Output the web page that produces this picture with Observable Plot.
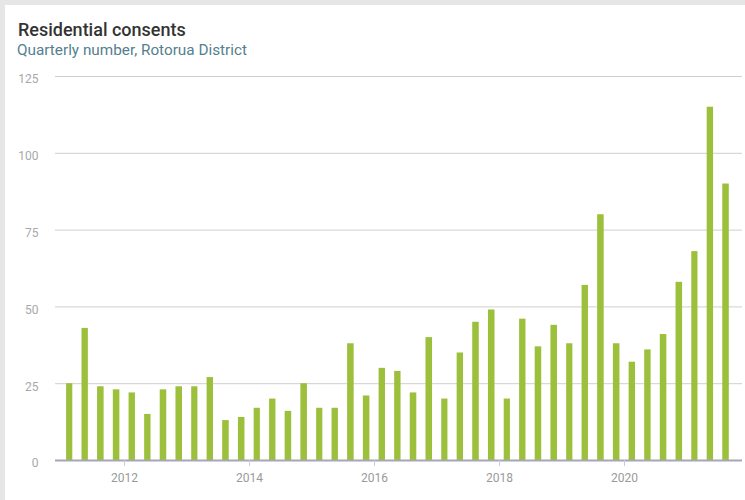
<!DOCTYPE html>
<html>
<head>
<meta charset="utf-8">
<script src="https://cdn.jsdelivr.net/npm/d3@7"></script>
<script src="https://cdn.jsdelivr.net/npm/@observablehq/plot@0.6"></script>
<style>
  html, body { margin: 0; padding: 0; background: #e6e6e6; width: 745px; height: 500px; overflow: hidden; font-family: Roboto, "Noto Sans", sans-serif; }
  #card { position: absolute; left: 5px; top: 5px; width: 745px; height: 500px; background: #fff; }
  #title { position: absolute; left: 18px; top: 19px; font-size: 18px; font-weight: 500; color: #333; white-space: nowrap; }
  #subtitle { position: absolute; left: 17px; top: 41px; font-size: 15.3px; color: #55808f; white-space: nowrap; }
  #chart { position: absolute; left: 0; top: 66px; }
</style>
</head>
<body>
<div id="card"></div>
<div id="title">Residential consents</div>
<div id="subtitle">Quarterly number, Rotorua District</div>
<div id="chart"></div>
<script>
const quarters = [
  "2011-Q1","2011-Q2","2011-Q3","2011-Q4",
  "2012-Q1","2012-Q2","2012-Q3","2012-Q4",
  "2013-Q1","2013-Q2","2013-Q3","2013-Q4",
  "2014-Q1","2014-Q2","2014-Q3","2014-Q4",
  "2015-Q1","2015-Q2","2015-Q3","2015-Q4",
  "2016-Q1","2016-Q2","2016-Q3","2016-Q4",
  "2017-Q1","2017-Q2","2017-Q3","2017-Q4",
  "2018-Q1","2018-Q2","2018-Q3","2018-Q4",
  "2019-Q1","2019-Q2","2019-Q3","2019-Q4",
  "2020-Q1","2020-Q2","2020-Q3","2020-Q4",
  "2021-Q1","2021-Q2","2021-Q3"
];
const consents = [
  25, 43, 24, 23,
  22, 15, 23, 24,
  24, 27, 13, 14,
  17, 20, 16, 25,
  17, 17, 38, 21,
  30, 29, 22, 40,
  20, 35, 45, 49,
  20, 46, 37, 44,
  38, 57, 80, 38,
  32, 36, 41, 58,
  68, 115, 90
];
const yTicks = [0, 25, 50, 75, 100, 125];
const xTickYears = [2012, 2014, 2016, 2018, 2020];

const parseQ = s => {
  const [y, q] = s.split("-Q");
  return new Date(Date.UTC(+y, (+q - 1) * 3, 1));
};
const data = quarters.map((q, i) => ({date: parseQ(q), value: consents[i]}));
const xTicks = xTickYears.map(y => new Date(Date.UTC(y, 0, 1)));

const chart = Plot.plot({
  width: 745,
  height: 434,
  marginTop: 10,
  marginBottom: 40,
  marginLeft: 55,
  marginRight: 3,
  style: {fontFamily: "Roboto, 'Noto Sans', sans-serif", fontSize: "12px", background: "transparent"},
  x: {
    type: "utc",
    domain: [parseQ("2011-Q1"), parseQ("2021-Q4")],
    range: [61.5, 733.4]
  },
  y: {domain: [0, 125]},
  marks: [
    Plot.gridY(yTicks, {stroke: "#cfcfcf", strokeOpacity: 1, strokeWidth: 1}),
    Plot.axisY(yTicks, {tickSize: 0, tickPadding: 17, fill: "#a8a8a8", label: null, dy: 3}),
    Plot.rectY(data, {
      x: "date",
      y: "value",
      interval: d3.utcMonth.every(3),
      fill: "#9cc03c",
      insetLeft: 4.6,
      insetRight: 4.6
    }),
    Plot.ruleY([0], {stroke: "#a3a7b8", strokeWidth: 2}),
    Plot.axisX(xTicks, {
      tickSize: 6,
      tickPadding: 7,
      stroke: "#c8cad6",
      fill: "#9a9a9a",
      tickFormat: d3.utcFormat("%Y"),
      label: null
    })
  ]
});
document.getElementById("chart").appendChild(chart);
</script>
</body>
</html>
